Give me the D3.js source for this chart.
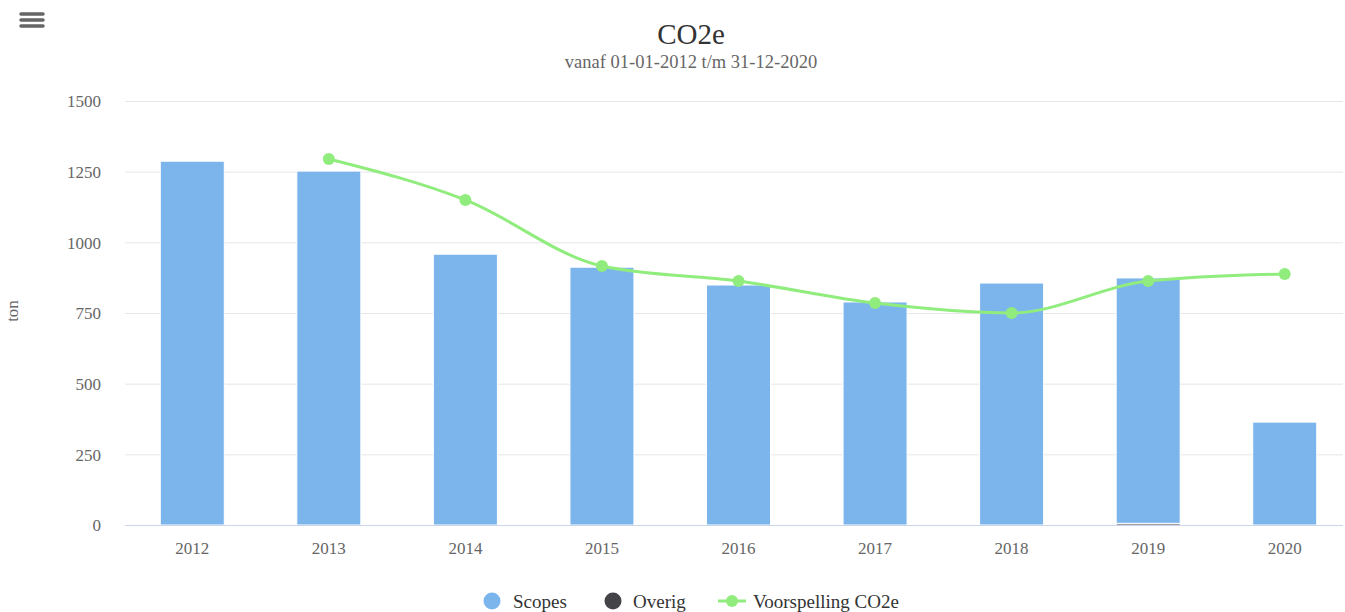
<!DOCTYPE html>
<html lang="nl">
<head>
  <meta charset="UTF-8">
  <title>CO2e</title>
  <script src="https://cdn.jsdelivr.net/npm/d3@7/dist/d3.min.js"></script>
  <style>
    body { margin: 0; background: #fff; }
    svg { font-family: "Liberation Serif", "Times New Roman", serif; }
  </style>
</head>
<body>
  <script>
    // data
    const years = ["2012", "2013", "2014", "2015", "2016", "2017", "2018", "2019", "2020"];
    const scopes = [1287, 1252, 958, 912, 849, 789, 856, 868, 364];
    const overig = [0, 0, 0, 0, 0, 0, 0, 6, 0];
    const forecast = [null, 1295, 1150, 916, 863, 785, 750, 863, 888];
    const yTicks = [0, 250, 500, 750, 1000, 1250, 1500];

    const W = 1345, H = 612;
    const svg = d3.select("body").append("svg").attr("width", W).attr("height", H);

    const x = d3.scaleBand().domain(years).range([124, 1353]);
    const y = d3.scaleLinear().domain([0, 1500]).range([525, 101]);
    const bw = 64;
    const cx = yr => x(yr) + x.bandwidth() / 2;

    // grid lines
    svg.append("g").selectAll("line")
      .data(yTicks.filter(d => d > 0))
      .enter().append("line")
      .attr("x1", 125).attr("x2", 1343)
      .attr("y1", d => y(d) + 0.5).attr("y2", d => y(d) + 0.5)
      .attr("stroke", "#e6e6e6").attr("stroke-width", 1);

    // y axis labels
    const axisY = d3.axisLeft(y).tickValues(yTicks).tickFormat(d3.format("d")).tickSize(0).tickPadding(0);
    const gy = svg.append("g").attr("transform", "translate(101,0)").call(axisY);
    gy.select(".domain").remove();
    gy.selectAll("text")
      .attr("fill", "#666").attr("font-size", 17)
      .attr("font-family", "Liberation Serif, serif")
      .attr("dy", "0.35em");

    svg.append("text")
      .attr("transform", "translate(18,311) rotate(-90)")
      .attr("text-anchor", "middle")
      .attr("fill", "#666").attr("font-size", 17)
      .text("ton");

    // stacked bars: overig underneath, scopes on top
    const bars = svg.append("g");
    years.forEach((yr, i) => {
      const o = overig[i];
      if (o > 0) {
        bars.append("rect")
          .attr("x", cx(yr) - bw / 2).attr("width", bw)
          .attr("y", y(o)).attr("height", y(0) - y(o))
          .attr("fill", "#434348").attr("stroke", "#fff").attr("stroke-width", 1);
      }
      bars.append("rect")
        .attr("x", cx(yr) - bw / 2).attr("width", bw)
        .attr("y", y(o + scopes[i])).attr("height", y(o) - y(o + scopes[i]))
        .attr("fill", "#7cb5ec").attr("stroke", "#fff").attr("stroke-width", 1);
    });

    // x axis
    const axisX = d3.axisBottom(x).tickSize(0).tickPadding(17);
    const gx = svg.append("g").attr("transform", "translate(0,525)").call(axisX);
    gx.select(".domain").attr("stroke", "#ccd6eb").attr("d", "M125,0.5H1343");
    gx.selectAll("text")
      .attr("fill", "#666").attr("font-size", 17)
      .attr("font-family", "Liberation Serif, serif");

    // forecast spline
    const pts = years.map((yr, i) => ({ yr, v: forecast[i] })).filter(d => d.v != null);
    const line = d3.line()
      .x(d => cx(d.yr))
      .y(d => y(d.v))
      .curve(d3.curveMonotoneX);
    svg.append("path").datum(pts)
      .attr("d", line)
      .attr("fill", "none").attr("stroke", "#90ed7d").attr("stroke-width", 3);
    svg.append("g").selectAll("circle")
      .data(pts).enter().append("circle")
      .attr("cx", d => cx(d.yr))
      .attr("cy", d => y(d.v))
      .attr("r", 6).attr("fill", "#90ed7d");

    // title
    svg.append("text").attr("x", 691).attr("y", 44).attr("text-anchor", "middle")
      .attr("fill", "#333").attr("font-size", 29).text("CO2e");
    svg.append("text").attr("x", 691).attr("y", 68).attr("text-anchor", "middle")
      .attr("fill", "#666").attr("font-size", 18.5).text("vanaf 01-01-2012 t/m 31-12-2020");

    // legend
    const lg = svg.append("g").attr("font-size", 19).attr("fill", "#333");
    lg.append("circle").attr("cx", 492).attr("cy", 601).attr("r", 8.5).attr("fill", "#7cb5ec");
    lg.append("text").attr("x", 513).attr("y", 608).text("Scopes");
    lg.append("circle").attr("cx", 613).attr("cy", 601).attr("r", 8.5).attr("fill", "#434348");
    lg.append("text").attr("x", 633).attr("y", 608).text("Overig");
    lg.append("line").attr("x1", 718).attr("x2", 746).attr("y1", 601).attr("y2", 601)
      .attr("stroke", "#90ed7d").attr("stroke-width", 3);
    lg.append("circle").attr("cx", 732).attr("cy", 601).attr("r", 6).attr("fill", "#90ed7d");
    lg.append("text").attr("x", 753).attr("y", 608).text("Voorspelling CO2e");

    // menu icon
    const menu = svg.append("g");
    [14, 20, 26].forEach(yy => {
      menu.append("line").attr("x1", 21).attr("x2", 43).attr("y1", yy).attr("y2", yy)
        .attr("stroke", "#666").attr("stroke-width", 3.5).attr("stroke-linecap", "round");
    });
  </script>
</body>
</html>
